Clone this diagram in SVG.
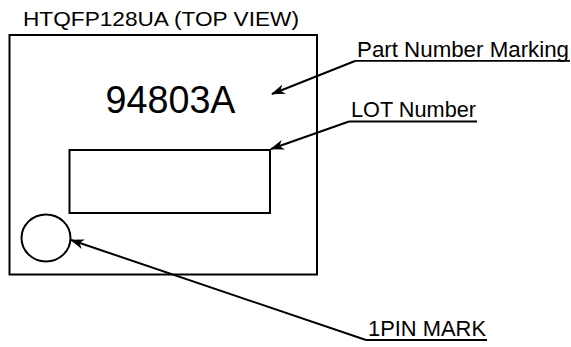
<svg xmlns="http://www.w3.org/2000/svg" width="571" height="347" viewBox="0 0 571 347">
  <style>
    .shape { fill: none; stroke: #000; stroke-width: 2; }
    .txt { font-family: "Liberation Sans", Arial, sans-serif; fill: #000; }
    .ul { stroke: #000; stroke-width: 1.8; }
    .conn { fill: none; stroke: #000; stroke-width: 2; marker-end: url(#arrow); }
  </style>
  <defs>
    <marker id="arrow" viewBox="0 0 14 10" refX="13" refY="5" markerWidth="14" markerHeight="10" markerUnits="userSpaceOnUse" orient="auto">
      <path d="M0,0 L14,5 L0,10 L4,5 z" fill="#000"/>
    </marker>
  </defs>
  <rect width="571" height="347" fill="#fff"/>

  <g id="title">
    <text class="txt" x="23" y="25.5" font-size="20.5" textLength="276" lengthAdjust="spacingAndGlyphs">HTQFP128UA (TOP VIEW)</text>
  </g>

  <g id="package">
    <rect class="shape" x="9.5" y="35" width="307.5" height="239.5"/>
  </g>

  <g id="part-number">
    <text class="txt" x="105.5" y="113" font-size="38" textLength="130" lengthAdjust="spacingAndGlyphs">94803A</text>
  </g>

  <g id="lot-box">
    <rect class="shape" x="69.5" y="150" width="200.5" height="63" stroke-width="1.8"/>
  </g>

  <g id="pin1-mark">
    <ellipse class="shape" cx="46" cy="238" rx="24.5" ry="23.5" stroke-width="1.8"/>
  </g>

  <g id="label-part-number">
    <text class="txt" x="357" y="57.3" font-size="22" textLength="212" lengthAdjust="spacingAndGlyphs">Part Number Marking</text>
    <line class="ul" x1="355" y1="60.8" x2="570" y2="60.8"/>
  </g>

  <g id="label-lot">
    <text class="txt" x="351" y="117.3" font-size="21.5" textLength="125" lengthAdjust="spacingAndGlyphs">LOT Number</text>
    <line class="ul" x1="349" y1="121.5" x2="477" y2="121.5"/>
  </g>

  <g id="label-pin1">
    <text class="txt" x="368" y="336" font-size="22" textLength="118" lengthAdjust="spacingAndGlyphs">1PIN MARK</text>
    <line class="ul" x1="366" y1="340" x2="487" y2="340"/>
  </g>

  <g id="connectors">
    <path class="conn" d="M355,61 L272,94"/>
    <path class="conn" d="M349,121.5 L271,149"/>
    <path class="conn" d="M366,340 L71,240"/>
  </g>
</svg>
